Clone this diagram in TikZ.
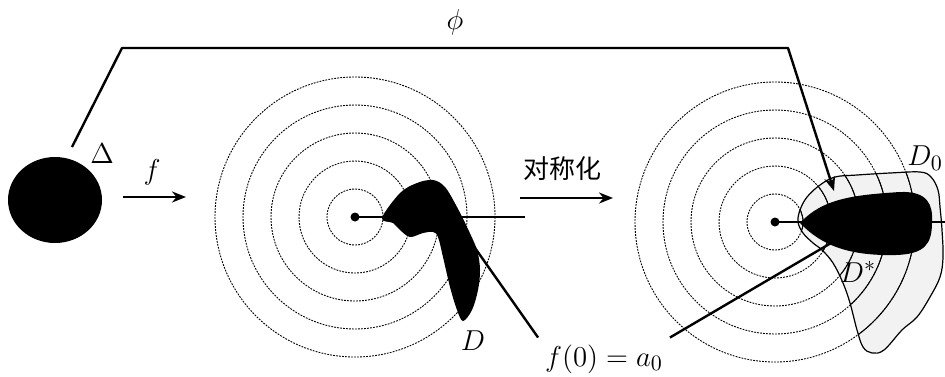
\documentclass[tikz,border=0pt]{standalone}
\usepackage{fontspec}
\newfontfamily\cjk{Noto Sans CJK SC}
\usetikzlibrary{arrows.meta}

\begin{document}
\begin{tikzpicture}[x=0.5pt,y=-0.5pt,
    ring/.style={line width=0.45pt, dash pattern=on 0.9pt off 0.6pt},
    lbl/.style={font=\fontsize{15}{18}\selectfont},
    map/.style={line width=1.2pt, -{Stealth[length=7pt,width=5.5pt]}}]
    \useasboundingbox (0,0) rectangle (945,376);
    % Einheitskreis Delta
    \fill (55,200) ellipse [x radius=47, y radius=43];
    \node[lbl] (delta) at (102,154) {$\Delta$};
    \coordinate (dtop) at (72,147);
    % Pfeil f
    \coordinate (fa) at (123,197);
    \coordinate (fb) at (186,197);
    \draw[map] (fa) -- (fb);
    \node[lbl] (flab) at (152,172) {$f$};
    % mittlere Kreise
    \coordinate (mid) at (355,217);
    \foreach \r in {28,56,84,112,140}
        \draw[ring] (mid) circle (\r);
    \coordinate (midr) at (525,217);
    \draw[line width=0.9pt] (mid) -- (midr);
    \fill plot[smooth cycle, tension=0.55] coordinates {(382,218) (400,193) (417,183)
        (433,180) (445,187) (457,207) (467,227) (477,250) (480,270) (478,290)
        (472,310) (463,321) (457,310) (450,287) (443,257) (438,237) (433,232)
        (423,233) (410,237) (400,230) (393,223)};
    \fill (mid) circle (4.5);
    \node[lbl] (dlab) at (473,341) {$D$};
    % Pfeil Symmetrisierung
    \coordinate (sa) at (520,198);
    \coordinate (sb) at (613,198);
    \draw[map] (sa) -- (sb);
    \node[font=\cjk\fontsize{13}{15}\selectfont] (sym) at (562,169) {对称化};
    % rechte Kreise
    \coordinate (rgt) at (775,222);
    \def\dnull{plot[smooth cycle, tension=0.6] coordinates {(835,177) (857,175)
        (890,173) (920,172) (931,177) (938,190) (940,207) (942,230) (943,257)
        (940,277) (930,297) (917,317) (902,330) (884,350) (872,353) (863,347)
        (857,330) (850,303) (843,283) (833,263) (822,250) (813,243) (803,233)
        (798,222) (800,210) (807,197) (820,185)}}
    \fill[gray!10] \dnull;
    \foreach \r in {28,56,84,112,140}
        \draw[ring] (rgt) circle (\r);
    \begin{scope}
        \clip \dnull;
        \foreach \r in {28,56,84,112,140}
            \draw[line width=0.5pt] (rgt) circle (\r);
    \end{scope}
    \draw[line width=0.6pt] \dnull;
    \coordinate (rgtr) at (945,222);
    \draw[line width=0.9pt] (rgt) -- (rgtr);
    \fill (800,223) .. controls (822,199) and (852,195) .. (900,192)
        .. controls (928,191) and (933,205) .. (932,222)
        .. controls (932,244) and (925,254) .. (896,255)
        .. controls (850,256) and (822,246) .. (800,223) -- cycle;
    \fill (rgt) circle (4.5);
    \node[lbl, anchor=west, inner sep=1pt] (dnlab) at (905,158) {$D_0$};
    \node[lbl] (dslab) at (858,272) {$D^*$};
    % f(0) = a_0
    \node[lbl] (fzero) at (604,359) {$f(0)=a_0$};
    \coordinate (dm) at (468,238);
    \coordinate (ds) at (831,243);
    \draw[line width=1.2pt] (fzero.north west) -- (dm);
    \draw[line width=1.2pt] (fzero.north east) -- (ds);
    % Abbildung phi
    \coordinate (pl) at (122,48);
    \coordinate (pr) at (788,48);
    \coordinate (ptip) at (834,191);
    \draw[map, line join=round] (dtop) -- (pl) -- (pr) -- (ptip);
    \node[lbl] (phi) at (455,22) {$\phi$};
\end{tikzpicture}
\end{document}
